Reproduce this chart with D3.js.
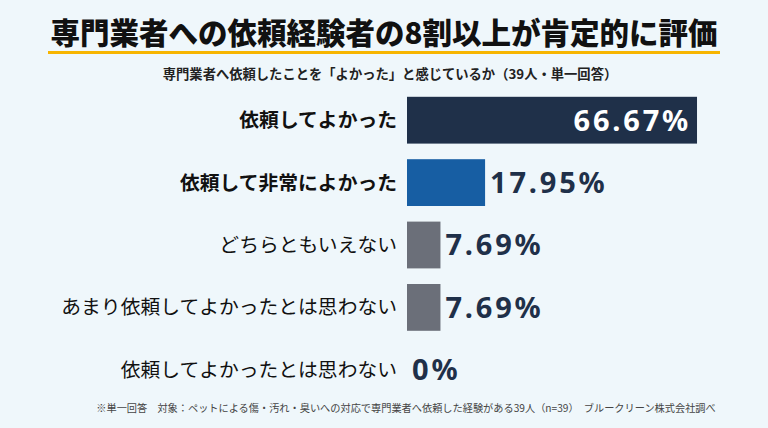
<!DOCTYPE html>
<html>
<head>
<meta charset="utf-8">
<script src="https://cdn.jsdelivr.net/npm/d3@7"></script>
<style>
  html, body { margin: 0; padding: 0; background: #eff7fb; }
  svg { display: block; }
</style>
</head>
<body>
<main></main>
<script>
// chart data
var categories = ['依頼してよかった', '依頼して非常によかった', 'どちらともいえない', 'あまり依頼してよかったとは思わない', '依頼してよかったとは思わない']
var values = [66.67, 17.95, 7.69, 7.69, 0]
var valueLabels = ['66.67%', '17.95%', '7.69%', '7.69%', '0%']
var boldRows = [true, true, false, false, false]
var barColors = ['#1f3049', '#175ea3', '#6b6f79', '#6b6f79', '#6b6f79']

var title = '専門業者への依頼経験者の8割以上が肯定的に評価'
var subtitle = '専門業者へ依頼したことを「よかった」と感じているか（39人・単一回答）'
var footnote = '※単一回答　対象：ペットによる傷・汚れ・臭いへの対応で専門業者へ依頼した経験がある39人（n=39）　ブルークリーン株式会社調べ'

var width = 768
var height = 428
var jp = '"Noto Sans CJK JP", "Noto Sans", sans-serif'

var svg = d3.select('main')
    .append('svg')
    .attr('width', width)
    .attr('height', height)

svg.append('rect')
    .attr('width', width)
    .attr('height', height)
    .attr('fill', '#eff7fb')

// title + underline
svg.append('text')
    .attr('x', 384)
    .attr('y', 44)
    .attr('text-anchor', 'middle')
    .attr('font-family', jp)
    .attr('font-weight', 900)
    .attr('font-size', 29.5)
    .attr('fill', '#111')
    .text(title)

svg.append('rect')
    .attr('x', 48)
    .attr('y', 51)
    .attr('width', 672)
    .attr('height', 3)
    .attr('fill', '#f7b500')

svg.append('text')
    .attr('x', 390)
    .attr('y', 79)
    .attr('text-anchor', 'middle')
    .attr('font-family', jp)
    .attr('font-weight', 700)
    .attr('font-size', 13.3)
    .attr('fill', '#222')
    .text(subtitle)

// scales
var x = d3.scaleLinear()
    .domain([0, 100])
    .range([407, 842])

var y = d3.scaleBand()
    .domain(categories)
    .range([89, 401])
    .paddingInner(0.25)
    .paddingOuter(0.125)

var rows = categories.map(function (c, i) {
    return { cat: c, val: values[i], label: valueLabels[i], bold: boldRows[i], color: barColors[i] }
})

var g = svg.append('g').attr('class', 'bars')

g.selectAll('rect')
    .data(rows)
    .enter()
    .append('rect')
    .attr('x', x(0))
    .attr('y', function (d) { return y(d.cat) })
    .attr('width', function (d) { return x(d.val) - x(0) })
    .attr('height', y.bandwidth())
    .attr('fill', function (d) { return d.color })

// category labels
g.selectAll('text.cat')
    .data(rows)
    .enter()
    .append('text')
    .attr('class', 'cat')
    .attr('x', x(0) - 10)
    .attr('y', function (d) { return y(d.cat) + y.bandwidth() / 2 })
    .attr('dy', '0.35em')
    .attr('text-anchor', 'end')
    .attr('font-family', jp)
    .attr('font-weight', function (d) { return d.bold ? 700 : 400 })
    .attr('font-size', 19.8)
    .attr('fill', '#111')
    .text(function (d) { return d.cat })

// value labels: inside the long bar, outside otherwise
g.selectAll('text.val')
    .data(rows)
    .enter()
    .append('text')
    .attr('class', 'val')
    .attr('x', function (d) { return d.val > 40 ? x(d.val) - 6 : x(d.val) + 5 })
    .attr('y', function (d) { return y(d.cat) + y.bandwidth() / 2 })
    .attr('dy', '0.36em')
    .attr('text-anchor', function (d) { return d.val > 40 ? 'end' : 'start' })
    .attr('font-family', '"Noto Sans", sans-serif')
    .attr('font-weight', 700)
    .attr('font-size', 29)
    .attr('letter-spacing', 2.8)
    .attr('fill', function (d) { return d.val > 40 ? '#ffffff' : '#1f3049' })
    .text(function (d) { return d.label })

svg.append('text')
    .attr('x', 406)
    .attr('y', 412)
    .attr('text-anchor', 'middle')
    .attr('font-family', jp)
    .attr('font-size', 10.2)
    .attr('fill', '#444')
    .text(footnote)
</script>
</body>
</html>
